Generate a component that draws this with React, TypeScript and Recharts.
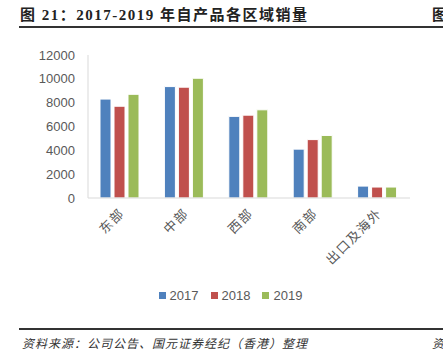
import { BarChart, Bar, XAxis, YAxis } from "recharts";

const regions = ["东部", "中部", "西部", "南部", "出口及海外"];
const sales2017 = [8300, 9350, 6850, 4100, 1000];
const sales2018 = [7700, 9300, 6950, 4900, 920];
const sales2019 = [8700, 10050, 7400, 5250, 920];
const yTicks = [0, 2000, 4000, 6000, 8000, 10000, 12000];
const boundaryTicks = [1, 2, 3, 4, 5];

const SERIES = [
  { key: "y2017", name: "2017", color: "#4F81BD" },
  { key: "y2018", name: "2018", color: "#C0504D" },
  { key: "y2019", name: "2019", color: "#9BBB59" },
];

const data = regions.map((name, i) => ({
  name,
  y2017: sales2017[i],
  y2018: sales2018[i],
  y2019: sales2019[i],
}));

const gray = "#595959";
const cjk = '"Noto Sans CJK SC", sans-serif';

function RotatedTick({ x, y, payload }: any) {
  return (
    <text
      x={x + 5}
      y={y + 8}
      textAnchor="end"
      fill={gray}
      fontSize={13}
      fontFamily={cjk}
      letterSpacing={1.5}
      transform={`rotate(-45, ${x + 5}, ${y + 8})`}
    >
      {payload.value}
    </text>
  );
}

export default function App() {
  return (
    <div
      style={{
        position: "absolute",
        left: 0,
        top: 0,
        width: 443,
        height: 357,
        background: "#fff",
        overflow: "hidden",
      }}
    >
      <div
        style={{
          position: "absolute",
          left: 20,
          top: 3,
          fontSize: 15,
          fontWeight: "bold",
          color: "#222",
          whiteSpace: "nowrap",
          fontFamily: '"Liberation Serif", "Noto Sans CJK SC", serif',
          letterSpacing: 1.5,
        }}
      >
        图 21：2017-2019 年自产品各区域销量
      </div>
      <div
        style={{
          position: "absolute",
          left: 432,
          top: 3,
          fontSize: 15,
          fontWeight: "bold",
          color: "#222",
          fontFamily: '"Noto Sans CJK SC", serif',
        }}
      >
        图
      </div>
      <div
        style={{
          position: "absolute",
          left: 19,
          top: 26,
          width: 424,
          height: 2,
          background: "#333",
        }}
      />

      <div style={{ position: "absolute", left: 0, top: 0 }}>
        <BarChart
          width={443}
          height={300}
          data={data}
          margin={{ top: 55, right: 33, bottom: 42, left: 0 }}
          barCategoryGap={12}
          barGap={3}
        >
          <XAxis
            xAxisId="bounds"
            type="number"
            domain={[0, 5]}
            ticks={boundaryTicks}
            interval={0}
            height={0}
            mirror
            tick={false}
            axisLine={false}
            tickSize={5}
            tickLine={{ stroke: "#d9d9d9" }}
          />
          <XAxis
            dataKey="name"
            height={60}
            interval={0}
            tickLine={false}
            axisLine={{ stroke: "#d9d9d9" }}
            tick={<RotatedTick />}
          />
          <YAxis
            width={88}
            domain={[0, 12000]}
            ticks={yTicks}
            interval={0}
            tickLine={false}
            tickSize={6}
            tickMargin={7}
            axisLine={{ stroke: "#d9d9d9" }}
            tick={{ fill: gray, fontSize: 13, fontFamily: '"Liberation Sans", sans-serif' }}
          />
          {SERIES.map((s) => (
            <Bar
              key={s.key}
              dataKey={s.key}
              name={s.name}
              fill={s.color}
              stroke="#fff"
              strokeWidth={1}
              isAnimationActive={false}
            />
          ))}
        </BarChart>
      </div>

      <div
        style={{
          position: "absolute",
          left: 0,
          top: 288,
          width: 443,
          display: "flex",
          justifyContent: "center",
          gap: 12,
          paddingLeft: 18,
          boxSizing: "border-box",
          fontFamily: '"Liberation Sans", sans-serif',
          fontSize: 13,
          color: gray,
        }}
      >
        {SERIES.map((s) => (
          <div key={s.key} style={{ display: "flex", alignItems: "center", gap: 4 }}>
            <span style={{ width: 7, height: 7, background: s.color, display: "inline-block" }} />
            <span>{s.name}</span>
          </div>
        ))}
      </div>

      <div
        style={{
          position: "absolute",
          left: 19,
          top: 328,
          width: 424,
          height: 1.5,
          background: "#333",
        }}
      />
      <div
        style={{
          position: "absolute",
          left: 22,
          top: 334,
          fontSize: 12,
          fontStyle: "italic",
          color: "#333",
          whiteSpace: "nowrap",
          fontFamily: cjk,
          letterSpacing: 1,
        }}
      >
        资料来源：公司公告、国元证券经纪（香港）整理
      </div>
      <div
        style={{
          position: "absolute",
          left: 432,
          top: 334,
          fontSize: 12,
          fontStyle: "italic",
          color: "#333",
          fontFamily: cjk,
        }}
      >
        资
      </div>
    </div>
  );
}
